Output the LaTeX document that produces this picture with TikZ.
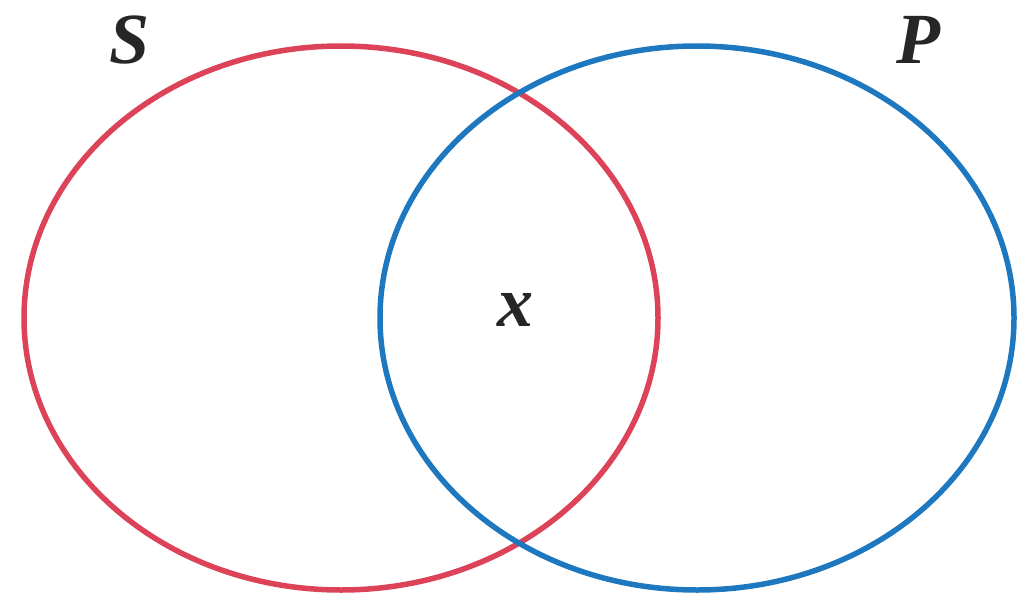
\documentclass[tikz,border=0pt]{standalone}
\usepackage{fontspec}
\setmainfont{Liberation Serif}
\definecolor{sred}{HTML}{DC4358}
\definecolor{pblue}{HTML}{1E78BF}
\begin{document}
\begin{tikzpicture}[x=1pt,y=-1pt]
\tikzset{
  setline/.style={line width=5.5pt},
  lbl/.style={font=\fontsize{72}{72}\selectfont\bfseries\itshape, text=black!85, inner sep=0pt}
}
\useasboundingbox (0,0) rectangle (1028,602);
\draw[setline, sred] (341,318) ellipse [x radius=317, y radius=272];
\draw[setline, pblue] (697,318) ellipse [x radius=317, y radius=272];
\node[lbl] (S) at (130,40) {S};
\node[lbl] (P) at (918,40) {P};
\node[lbl] (x) at (515,310) {x};
\end{tikzpicture}
\end{document}
